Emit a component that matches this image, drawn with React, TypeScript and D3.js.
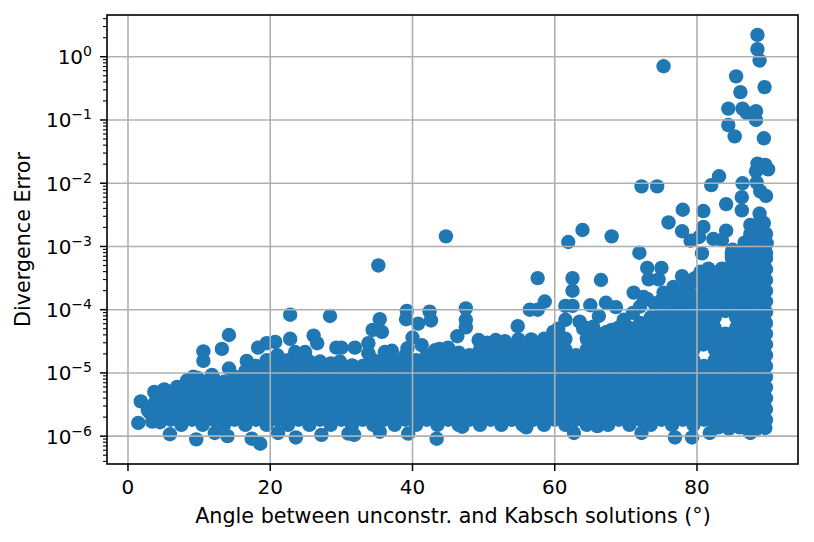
import React from 'react';
import * as d3 from 'd3';

// Values. Errors are kept as log10(error).
const outlierAngles = [
  88.5, 88.5, 88.8, 75.3, 85.5, 89.5, 86.1, 84.4, 86.4, 87.0, 88.3, 88.3, 84.4, 85.3, 89.4,
  88.5, 89.6, 90.0, 88.3, 83.1, 82.0, 86.4, 72.2, 74.4, 88.4, 88.9, 89.7, 86.3, 84.1, 86.3,
  78.0, 80.9, 88.8, 76.0, 80.9, 87.5, 89.4, 77.9, 68.0, 84.1, 79.1, 80.3, 82.3, 83.5, 86.7,
  89.8, 71.9, 84.9, 61.9, 63.9, 44.7, 35.2, 57.6, 62.5, 66.5, 62.5, 73.0, 75.0, 73.2, 74.6,
  71.1, 73.0, 75.3, 77.9, 79.7, 76.7, 80.7, 81.6, 84.9, 58.6, 56.5, 57.6, 54.8, 61.5, 62.5,
  65.0, 67.2, 68.6, 66.2, 61.5, 63.5, 69.7, 74.8, 76.6, 47.5, 47.5, 47.5, 46.3, 49.3, 51.7,
  53.0, 54.9, 56.7, 57.9, 59.8, 65.4, 67.3, 22.8, 28.4, 39.2, 39.1, 42.4, 42.6, 35.4, 34.4,
  35.7, 40.8, 14.2, 10.6, 10.6, 13.2, 26.1, 26.6, 22.8, 20.7, 19.5, 18.3, 16.7, 14.2, 29.3,
  30.0, 31.9, 33.8, 33.8, 36.1, 37.1, 39.3, 40.0, 41.3, 43.2, 24.9, 23.5, 29.8, 27.0, 27.9,
  11.8, 9.2, 1.8, 1.45, 3.4, 3.7, 5.1, 2.8, 5.9, 9.6, 12.2, 14.0, 17.4, 18.6, 21.1, 23.6,
  27.2, 31.0, 31.8, 35.4, 39.4, 43.4, 62.7, 72.2, 76.9, 79.3, 81.8, 87.5,
];
const outlierLogErrors = [
  0.345, 0.12, -0.06, -0.15, -0.31, -0.48, -0.56, -0.82, -0.82, -0.89, -0.86, -1.0, -1.08, -1.26, -1.29,
  -1.69, -1.71, -1.78, -1.81, -1.89, -2.03, -2.0, -2.05, -2.05, -1.99, -2.13, -2.2, -2.22, -2.33, -2.43,
  -2.42, -2.44, -2.48, -2.62, -2.69, -2.66, -2.63, -2.76, -2.84, -2.75, -2.91, -2.85, -2.88, -2.9, -2.94,
  -2.95, -3.1, -3.1, -2.93, -2.74, -2.84, -3.3, -3.5, -3.5, -3.53, -3.7, -3.34, -3.34, -3.52, -3.52,
  -3.73, -3.83, -3.73, -3.47, -3.5, -3.64, -3.11, -3.35, -3.18, -3.87, -4.0, -4.0, -4.26, -3.94, -3.94,
  -3.93, -3.89, -3.96, -4.1, -4.16, -4.19, -4.16, -4.09, -3.95, -3.98, -4.16, -4.28, -4.42, -4.48, -4.48,
  -4.5, -4.47, -4.47, -4.53, -4.35, -4.27, -4.35, -4.08, -4.1, -4.02, -4.15, -4.03, -4.17, -4.15, -4.32,
  -4.35, -4.22, -4.4, -4.66, -4.81, -4.62, -4.41, -4.53, -4.46, -4.51, -4.53, -4.6, -4.81, -4.93, -4.6,
  -4.6, -4.6, -4.53, -4.69, -4.67, -4.65, -4.61, -4.44, -4.56, -4.64, -4.67, -4.67, -4.82, -4.82, -4.88,
  -5.03, -5.06, -5.45, -5.79, -5.77, -5.3, -5.26, -5.59, -5.97, -6.05, -5.95, -6.0, -6.04, -6.12, -5.95, -6.02,
  -5.98, -5.96, -5.98, -5.93, -5.96, -6.04, -5.95, -5.95, -6.02, -6.02, -5.95, -5.95,
];

// Points along the rim of the solid band
const rimAngles = [
  3.0, 3.6, 4.0, 5.5, 5.8, 6.9, 8.3, 9.8, 43.8, 45.0, 50.5, 60.5, 64.0, 68.0, 69.0,
  71.0, 72.0, 72.5, 74.0, 75.0, 76.0, 77.0, 78.0, 78.5, 79.0, 80.0, 80.5, 81.5, 82.5, 83.5,
  83.0, 85.0, 86.0, 87.2, 88.4, 89.5, 89.7, 89.0, 87.5, 88.0, 88.9, 87.5, 88.0, 89.0, 80.9,
  84.5, 86.0, 87.0, 88.2, 89.6, 83.0, 66.0, 56.0, 47.0,
];
const rimLogErrors = [
  -5.62, -5.5, -5.42, -5.42, -5.3, -5.22, -5.12, -5.08, -4.62, -4.6, -4.52, -4.3, -4.3, -4.32, -4.28,
  -4.05, -3.95, -3.8, -3.9, -3.85, -3.8, -3.78, -3.7, -3.55, -3.6, -3.55, -3.4, -3.5, -3.42, -3.35,
  -3.55, -3.05, -3.1, -2.95, -2.9, -2.95, -2.8, -2.82, -2.8, -2.7, -2.6, -2.85, -2.75, -2.85, -4.55,
  -5.88, -5.86, -5.88, -5.9, -5.87, -5.86, -5.84, -5.86, -5.85,
];

// The solid band of points, column by column
const bandAngles = [
  4.5, 6, 7.5, 9, 10.5, 12, 13.5, 15, 16.5, 18, 19.5, 21, 22.5, 24, 25.5, 27, 28.5, 30, 31.5, 33,
  34.5, 36, 37.5, 39, 40.5, 42, 43.5, 45, 46.5, 48, 49.5, 51, 52.5, 54, 55.5, 57, 58.5, 60, 61.5, 63,
  64.5, 66, 67.5, 69, 70.5, 72, 73.5, 75, 76.5, 78, 79.5, 81, 82.5, 84, 85.5, 87, 88.5, 89.7,
];
const bandLogErrors = [
  [-5.78, -5.63, -5.47],
  [-5.74, -5.57, -5.4],
  [-5.82, -5.65, -5.48, -5.31],
  [-5.74, -5.57, -5.4, -5.23],
  [-5.82, -5.65, -5.48, -5.31, -5.14],
  [-5.74, -5.57, -5.4, -5.23, -5.08],
  [-5.82, -5.65, -5.48, -5.31, -5.14],
  [-5.74, -5.57, -5.4, -5.23, -5.06],
  [-5.82, -5.65, -5.48, -5.31, -5.14, -4.97],
  [-5.74, -5.57, -5.4, -5.23, -5.06, -4.89],
  [-5.82, -5.65, -5.48, -5.31, -5.14, -4.97, -4.8],
  [-5.74, -5.57, -5.4, -5.23, -5.06, -4.89, -4.72],
  [-5.82, -5.65, -5.48, -5.31, -5.14, -4.97, -4.8],
  [-5.74, -5.57, -5.4, -5.23, -5.06, -4.89, -4.75],
  [-5.82, -5.65, -5.48, -5.31, -5.14, -4.97, -4.82],
  [-5.74, -5.57, -5.4, -5.23, -5.06, -4.89],
  [-5.82, -5.65, -5.48, -5.31, -5.14, -4.97, -4.85],
  [-5.74, -5.57, -5.4, -5.23, -5.06, -4.89],
  [-5.82, -5.65, -5.48, -5.31, -5.14, -4.97, -4.88],
  [-5.74, -5.57, -5.4, -5.23, -5.06, -4.89],
  [-5.82, -5.65, -5.48, -5.31, -5.14, -4.97, -4.8],
  [-5.74, -5.57, -5.4, -5.23, -5.06, -4.89, -4.78],
  [-5.82, -5.65, -5.48, -5.31, -5.14, -4.97, -4.8],
  [-5.74, -5.57, -5.4, -5.23, -5.06, -4.89, -4.72],
  [-5.82, -5.65, -5.48, -5.31, -5.14, -4.97, -4.8],
  [-5.74, -5.57, -5.4, -5.23, -5.06, -4.89, -4.72],
  [-5.82, -5.65, -5.48, -5.31, -5.14, -4.97, -4.8],
  [-5.74, -5.57, -5.4, -5.23, -5.06, -4.89, -4.72],
  [-5.82, -5.65, -5.48, -5.31, -5.14, -4.97, -4.8, -4.68],
  [-5.74, -5.57, -5.4, -5.23, -5.06, -4.89, -4.72],
  [-5.82, -5.65, -5.48, -5.31, -5.14, -4.97, -4.8, -4.63],
  [-5.74, -5.57, -5.4, -5.23, -5.06, -4.89, -4.72, -4.6],
  [-5.82, -5.65, -5.48, -5.31, -5.14, -4.97, -4.8, -4.63],
  [-5.74, -5.57, -5.4, -5.23, -5.06, -4.89, -4.72, -4.58],
  [-5.82, -5.65, -5.48, -5.31, -5.14, -4.97, -4.8, -4.63],
  [-5.74, -5.57, -5.4, -5.23, -5.06, -4.89, -4.72, -4.55],
  [-5.82, -5.65, -5.48, -5.31, -5.14, -4.97, -4.8, -4.63, -4.46],
  [-5.74, -5.57, -5.4, -5.23, -5.06, -4.89, -4.72, -4.55, -4.38],
  [-5.82, -5.65, -5.48, -5.31, -5.14, -4.97, -4.8, -4.63, -4.46],
  [-5.74, -5.57, -5.4, -5.23, -5.06, -4.89, -4.72],
  [-5.82, -5.65, -5.48, -5.31, -5.14, -4.97, -4.8, -4.63, -4.46, -4.29],
  [-5.74, -5.57, -5.4, -5.23, -5.06, -4.89, -4.72, -4.55, -4.38],
  [-5.82, -5.65, -5.48, -5.31, -5.14, -4.97, -4.8, -4.63, -4.46],
  [-5.74, -5.57, -5.4, -5.23, -5.06, -4.89, -4.72, -4.55, -4.38],
  [-5.82, -5.65, -5.48, -5.31, -5.14, -4.97, -4.8, -4.63, -4.46, -4.29],
  [-5.74, -5.57, -5.4, -5.23, -5.06, -4.89, -4.72, -4.55, -4.38, -4.21],
  [-5.82, -5.65, -5.48, -5.31, -5.14, -4.97, -4.8, -4.63, -4.46, -4.29, -4.12],
  [-5.74, -5.57, -5.4, -5.23, -5.06, -4.89, -4.72, -4.55, -4.38, -4.21, -4.04],
  [-5.82, -5.65, -5.48, -5.31, -5.14, -4.97, -4.8, -4.63, -4.46, -4.29, -4.12],
  [-5.74, -5.57, -5.4, -5.23, -5.06, -4.89, -4.72, -4.55, -4.38, -4.21, -4.04, -3.87],
  [-5.82, -5.65, -5.48, -5.31, -5.14, -4.97, -4.8, -4.63, -4.46, -4.29, -4.12, -3.95, -3.78],
  [-5.74, -5.57, -5.4, -5.23, -5.06, -4.89, -4.4, -4.23, -4.06, -3.87, -3.7],
  [-5.82, -5.65, -5.48, -5.31, -5.14, -4.97, -4.8, -4.63, -4.46, -4.29, -4.12, -3.95, -3.78, -3.61],
  [-5.74, -5.57, -5.4, -5.23, -5.06, -4.89, -4.72, -4.55, -4.38, -4.02, -3.87, -3.7, -3.53, -3.36],
  [-5.82, -5.65, -5.48, -5.31, -5.14, -4.97, -4.8, -4.63, -4.46, -4.29, -4.12, -3.95, -3.78, -3.61, -3.44, -3.27],
  [-5.74, -5.57, -5.4, -5.23, -5.06, -4.89, -4.72, -4.55, -4.38, -4.21, -4.04, -3.87, -3.7, -3.53, -3.36, -3.19, -3.1],
  [-5.82, -5.65, -5.48, -5.31, -5.14, -4.97, -4.8, -4.63, -4.46, -4.29, -4.12, -3.95, -3.78, -3.61, -3.44, -3.27, -3.1, -3.02],
  [-5.74, -5.57, -5.4, -5.23, -5.06, -4.89, -4.72, -4.55, -4.38, -4.21, -4.04, -3.87, -3.7, -3.53, -3.36, -3.19, -3.1],
];

const points = [
  ...outlierAngles.map((a, i) => [a, outlierLogErrors[i]]),
  ...rimAngles.map((a, i) => [a, rimLogErrors[i]]),
  ...bandAngles.flatMap((a, i) => bandLogErrors[i].map((e) => [a, e])),
];

const xTicks = [0, 20, 40, 60, 80];
const yExponents = [-6, -5, -4, -3, -2, -1, 0];
const minorFactors = [2, 3, 4, 5, 6, 7, 8, 9];

const left = 107;
const right = 798;
const top = 15;
const bottom = 464;
const gridColor = '#b0b0b0';
const dotColor = '#1f77b4';
const fontFamily = '"DejaVu Sans", sans-serif';

const x = d3.scaleLinear().domain([-2.95, 94.2]).range([left, right]);
const y = d3.scaleLog().domain([10 ** -6.44, 10 ** 0.66]).range([bottom, top]);

const minorTicks = [-7, ...yExponents]
  .flatMap((e) => minorFactors.map((f) => f * 10 ** e))
  .filter((v) => y(v) >= top && y(v) <= bottom);

export default function App() {
  return (
    <svg
      width={814}
      height={542}
      style={{ position: 'absolute', left: 0, top: 0, background: 'white', fontFamily }}
    >
      <g fill={dotColor}>
        {points.map(([a, e], i) => (
          <circle key={i} cx={x(a)} cy={y(10 ** e)} r={7.2} />
        ))}
      </g>
      <g stroke={gridColor} strokeWidth={1.6}>
        {xTicks.map((t) => (
          <line key={t} x1={x(t)} x2={x(t)} y1={top} y2={bottom} />
        ))}
        {yExponents.map((e) => (
          <line key={e} x1={left} x2={right} y1={y(10 ** e)} y2={y(10 ** e)} />
        ))}
      </g>
      <g stroke="black" strokeWidth={1.5}>
        {xTicks.map((t) => (
          <line key={t} x1={x(t)} x2={x(t)} y1={bottom} y2={bottom + 7} />
        ))}
        {yExponents.map((e) => (
          <line key={e} x1={left - 7} x2={left} y1={y(10 ** e)} y2={y(10 ** e)} />
        ))}
      </g>
      <g stroke="black" strokeWidth={1.1}>
        {minorTicks.map((v) => (
          <line key={v} x1={left - 4} x2={left} y1={y(v)} y2={y(v)} />
        ))}
      </g>
      <rect x={left} y={top} width={right - left} height={bottom - top} fill="none" stroke="black" strokeWidth={1.6} />
      <g fontSize={20} fill="black">
        {xTicks.map((t) => (
          <text key={t} x={x(t)} y={494} textAnchor="middle">
            {t}
          </text>
        ))}
        {yExponents.map((e) => (
          <text key={e} x={92} y={y(10 ** e) + 7.5} textAnchor="end">
            10
            <tspan dy={-8} fontSize={14}>
              {e < 0 ? `\u2212${-e}` : e}
            </tspan>
          </text>
        ))}
      </g>
      <g fontSize={20.7} fill="black">
        <text x={453} y={523} textAnchor="middle">
          Angle between unconstr. and Kabsch solutions (°)
        </text>
        <text transform={`translate(30,239.5) rotate(-90)`} textAnchor="middle">
          Divergence Error
        </text>
      </g>
    </svg>
  );
}
